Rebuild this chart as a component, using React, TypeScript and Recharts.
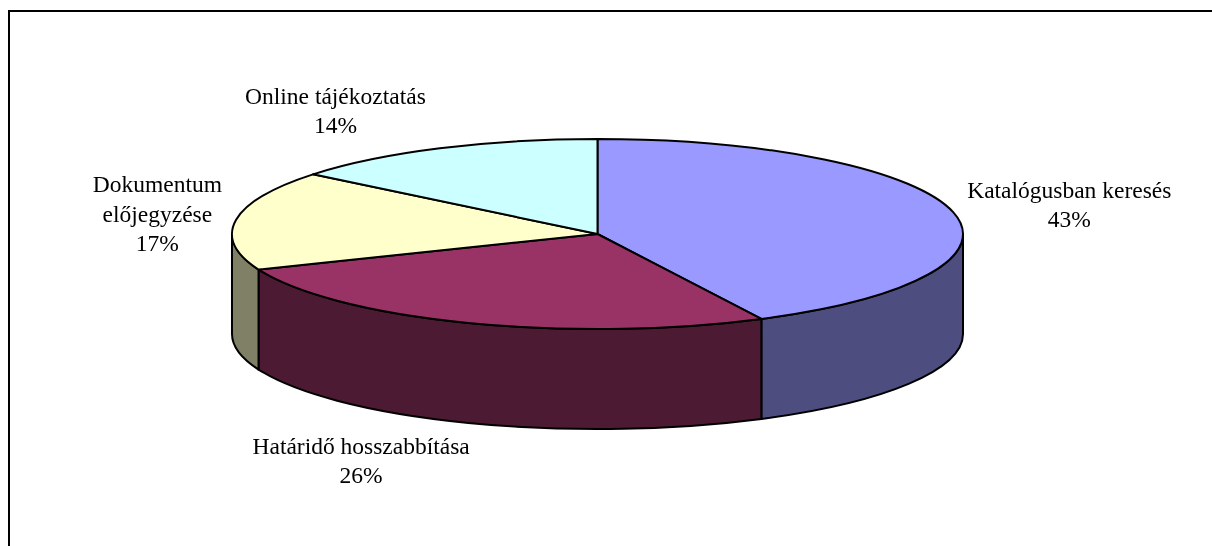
import React from 'react';
import { PieChart, Pie, Cell } from 'recharts';

const categories = [
  'Katalógusban keresés',
  'Határidő hosszabbítása',
  'Dokumentum\nelőjegyzése',
  'Online tájékoztatás',
];
const shares = [42.6, 26.3, 16.9, 14.2];
const topColors = ['#9999FF', '#993366', '#FFFFCC', '#CCFFFF'];
const sideColors = ['#4D4D80', '#4D1A33', '#808066', '#668080'];

const data = categories.map((name, i) => ({ name, value: shares[i] }));

const W = 1204;
const H = 530;
const MARGIN = { top: 0, right: 0, bottom: 0, left: 0 };
const CX = 589.5;
const CY = 226;
const RX = 365.5;
const TILT = 0.26; // ry / rx
const DEPTH = 100;
const FONT = "'Times New Roman', 'Liberation Serif', serif";
const FONT_SIZE = 23.5;

const rad = (d: number) => (d * Math.PI) / 180;
// clock angle: 0 = top, growing clockwise
const pt = (cx: number, cy: number, rx: number, ry: number, t: number) => [
  cx + rx * Math.sin(rad(t)),
  cy - ry * Math.cos(rad(t)),
];

let ctx: CanvasRenderingContext2D | null = null;
const textWidth = (s: string) => {
  if (!ctx) ctx = document.createElement('canvas').getContext('2d');
  if (!ctx) return s.length * FONT_SIZE * 0.45;
  ctx.font = `${FONT_SIZE}px ${FONT}`;
  return ctx.measureText(s).width;
};

const Slice3D = (props: any) => {
  const { cx, cy, outerRadius, startAngle, endAngle, fill } = props;
  const name = props.payload?.name ?? props.name;
  const idx = categories.indexOf(name);
  const rx = outerRadius;
  const ry = rx * TILT;
  const t1 = 90 - startAngle;
  const t2 = 90 - endAngle;
  const [x1, y1] = pt(cx, cy, rx, ry, t1);
  const [x2, y2] = pt(cx, cy, rx, ry, t2);
  const large = t2 - t1 > 180 ? 1 : 0;
  const top = `M${cx},${cy} L${x1},${y1} A${rx},${ry} 0 ${large} 1 ${x2},${y2} Z`;

  const a = Math.max(t1, 90);
  const b = Math.min(t2, 270);
  let wall = null;
  if (a < b) {
    const [ax, ay] = pt(cx, cy, rx, ry, a);
    const [bx, by] = pt(cx, cy, rx, ry, b);
    const d = `M${ax},${ay} A${rx},${ry} 0 0 1 ${bx},${by} L${bx},${by + DEPTH} A${rx},${ry} 0 0 0 ${ax},${ay + DEPTH} Z`;
    wall = <path d={d} fill={sideColors[idx]} stroke="#000" strokeWidth={2} strokeLinejoin="round" />;
  }
  return (
    <g>
      {wall}
      <path d={top} fill={fill} stroke="#000" strokeWidth={2} strokeLinejoin="round" />
    </g>
  );
};

const renderLabel = (props: any) => {
  const { cx, cy, midAngle, outerRadius, percent, name } = props;
  const rx = outerRadius;
  const ry = rx * TILT;
  const t = 90 - midAngle;
  const s = Math.sin(rad(t));
  const c = Math.cos(rad(t));
  const lines = [...String(name).split('\n'), `${Math.round(percent * 100)}%`];
  const half = Math.max(...lines.map(textWidth)) / 2;
  const gap = c > 0 ? 14 : -1.5;
  const x = cx + rx * s + Math.sign(s) * (half + gap);
  const y =
    cy + 3 - c * (ry + (c > 0 ? 2 : 10) + 38 * Math.abs(c)) + (c < 0 ? DEPTH : 0);
  const pitch = 29.5;
  return (
    <text x={x} y={y} textAnchor="middle" fontFamily={FONT} fontSize={FONT_SIZE} fill="#000">
      {lines.map((l, i) => (
        <tspan key={i} x={x} y={y + (i - (lines.length - 1) / 2) * pitch}>
          {l}
        </tspan>
      ))}
    </text>
  );
};

export default function App() {
  return (
    <div style={{ width: W, height: H }}>
      <div
        style={{
          position: 'fixed',
          left: 8,
          top: 10,
          width: 1240,
          height: 580,
          borderLeft: '2px solid #000',
          borderTop: '2px solid #000',
          pointerEvents: 'none',
        }}
      />
      <PieChart width={W} height={H} margin={MARGIN}>
        <Pie
          data={data}
          dataKey="value"
          nameKey="name"
          cx={CX}
          cy={CY}
          outerRadius={RX}
          startAngle={90}
          endAngle={-270}
          shape={Slice3D}
          label={renderLabel}
          labelLine={false}
          isAnimationActive={false}
        >
          {data.map((d, i) => (
            <Cell key={d.name} fill={topColors[i]} />
          ))}
        </Pie>
      </PieChart>
    </div>
  );
}
